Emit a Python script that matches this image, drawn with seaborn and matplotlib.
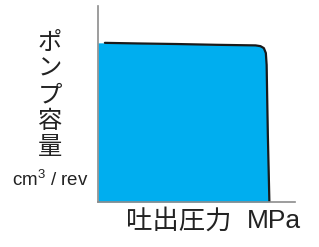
import matplotlib
matplotlib.use("Agg")
import matplotlib.pyplot as plt
import seaborn as sns
import pandas as pd

# Pump displacement vs discharge pressure (arbitrary units 0-10)
pressure = [0.35, 2.0, 4.0, 6.0, 8.0, 8.25, 8.42, 8.52, 8.56, 8.62, 8.7]
displacement = [8.12, 8.09, 8.06, 8.02, 7.99, 7.95, 7.85, 7.6, 7.0, 3.5, 0.0]
fill_pressure = [0.0] + pressure
fill_displacement = [8.12] + displacement

ylabel_jp = "ポ\nン\nプ\n容\n量"
ylabel_unit = r"cm$^3$ / rev"
xlabel_jp = "吐出圧力"
xlabel_unit = "MPa"

sns.set_style("white")
plt.rcParams["font.family"] = ["Noto Sans CJK JP", "DejaVu Sans"]
plt.rcParams["mathtext.fontset"] = "custom"
plt.rcParams["mathtext.rm"] = "Liberation Sans"
plt.rcParams["mathtext.default"] = "regular"

fig = plt.figure(figsize=(3.19, 2.47), dpi=100)
ax = fig.add_axes([98 / 319, 45 / 247, 197 / 319, 196 / 247])

df = pd.DataFrame({"pressure": pressure, "displacement": displacement})
ax.fill_between(fill_pressure, fill_displacement, 0, color="#00AEEF", linewidth=0)
sns.lineplot(data=df, x="pressure", y="displacement", ax=ax, color="#1a1a1a",
             linewidth=1.6, sort=False, estimator=None)

ax.set_xlim(0, 10)
ax.set_ylim(0, 10)
ax.set_xticks([])
ax.set_yticks([])
ax.set_xlabel("")
ax.set_ylabel("")
for side in ["top", "right"]:
    ax.spines[side].set_visible(False)
for side in ["left", "bottom"]:
    ax.spines[side].set_color("#8c8c8c")
    ax.spines[side].set_linewidth(1.2)

fig.text(50 / 319, 1 - 95 / 247, ylabel_jp, fontsize=17.5, ha="center", va="center",
         linespacing=1.0, color="#222222")
fig.text(50 / 319, 1 - 180 / 247, ylabel_unit, fontsize=13.5, ha="center", va="center",
         family="Liberation Sans", color="#222222")
fig.text(179 / 319, 1 - 221 / 247, xlabel_jp, fontsize=19, ha="center", va="center",
         color="#222222")
fig.text(273.5 / 319, 1 - 221 / 247, xlabel_unit, fontsize=19, ha="center", va="center",
         family="Liberation Sans", color="#222222")

fig.savefig("out.png", dpi=100)
